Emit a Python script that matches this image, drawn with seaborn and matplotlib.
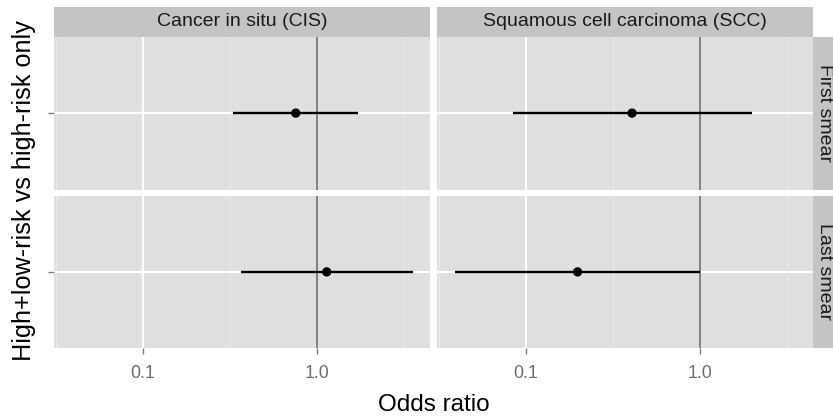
import numpy as np
import pandas as pd
import matplotlib
matplotlib.use("Agg")
import matplotlib.pyplot as plt
import seaborn as sns
from matplotlib.patches import Rectangle
from matplotlib.ticker import FixedLocator, NullFormatter, FixedFormatter

# ---- data ----
outcomes = ["Cancer in situ (CIS)", "Squamous cell carcinoma (SCC)", "Cancer in situ (CIS)", "Squamous cell carcinoma (SCC)"]
smears = ["First smear", "First smear", "Last smear", "Last smear"]
odds_ratio = [0.757, 0.407, 1.14, 0.198]
ci_low = [0.332, 0.0845, 0.366, 0.039]
ci_high = [1.72, 1.99, 3.56, 1.0]
xtick_values = [0.1, 1.0]
xtick_labels = ["0.1", "1.0"]
minor_values = [0.0316, 0.316, 3.16]

col_order = ["Cancer in situ (CIS)", "Squamous cell carcinoma (SCC)"]
row_order = ["First smear", "Last smear"]

df = pd.DataFrame({
    "outcome": outcomes,
    "smear": smears,
    "or": odds_ratio,
    "lo": ci_low,
    "hi": ci_high,
    "y": [0.0] * 4,
})

PANEL = "#DFDFDF"
STRIP = "#C4C4C4"
MINOR = "#EBEBEB"

sns.set_style({
    "axes.facecolor": PANEL,
    "figure.facecolor": "white",
    "axes.edgecolor": PANEL,
    "axes.grid": True,
    "grid.color": "white",
    "axes.axisbelow": True,
    "xtick.bottom": True,
    "ytick.left": True,
})
plt.rcParams["font.family"] = ["Liberation Sans", "DejaVu Sans"]

W, H, DPI = 833, 416, 100
g = sns.FacetGrid(df, row="smear", col="outcome", row_order=row_order,
                  col_order=col_order, sharex=True, sharey=True,
                  height=H / DPI / 2, aspect=(W / 2) / (H / 2), despine=False)
g.figure.set_size_inches(W / DPI, H / DPI)


def draw(data, **kw):
    ax = plt.gca()
    ax.axvline(1.0, color="#808080", lw=1.4, zorder=2)
    ax.hlines(data["y"], data["lo"], data["hi"], color="black", lw=1.7, zorder=3)
    sns.scatterplot(data=data, x="or", y="y", color="black", s=45,
                    edgecolor="none", ax=ax, zorder=4, legend=False)


g.map_dataframe(draw)
g.set_titles("")

for i in range(2):
    for j in range(2):
        ax = g.axes[i, j]
        ax.set_xscale("log")
        ax.set_xlim(0.031, 4.48)
        ax.set_ylim(-1, 1)
        ax.xaxis.set_major_locator(FixedLocator(xtick_values))
        ax.xaxis.set_major_formatter(FixedFormatter(xtick_labels))
        ax.xaxis.set_minor_locator(FixedLocator(minor_values))
        ax.xaxis.set_minor_formatter(NullFormatter())
        ax.set_yticks([0])
        ax.set_yticklabels([""])
        ax.grid(which="major", color="white", lw=1.5)
        ax.grid(which="minor", axis="x", color=MINOR, lw=0.8)
        ax.tick_params(which="minor", length=0)
        ax.tick_params(which="major", length=4.2, width=1.0, color="#7F7F7F",
                       labelsize=12.8, labelcolor="#6E6E6E", pad=8)
        ax.tick_params(axis="x", bottom=(i == 1), labelbottom=(i == 1))
        ax.tick_params(axis="y", left=(j == 0))
        for s in ax.spines.values():
            s.set_visible(False)
        ax.set_xlabel("")
        ax.set_ylabel("")

# layout
left, right = 54.3 / W, 813.3 / W
top, bottom = 1 - 36.7 / H, 1 - 348.3 / H
panel_w = (813.3 - 54.3 - 7.3) / 2
panel_h = (348.3 - 36.7 - 6.0) / 2
g.figure.subplots_adjust(left=left, right=right, top=top, bottom=bottom,
                         wspace=7.3 / panel_w, hspace=6.0 / panel_h)

strip_px = 29.4
# top strips
for j, name in enumerate(col_order):
    ax = g.axes[0, j]
    hfrac = strip_px / panel_h
    ax.add_patch(Rectangle((0, 1), 1, hfrac, transform=ax.transAxes,
                           facecolor=STRIP, edgecolor="none", clip_on=False))
    ax.text(0.5, 1 + hfrac / 2, name, transform=ax.transAxes, ha="center",
            va="center", fontsize=14, color="#1A1A1A")
# right strips (text kept just inside the image edge)
for i, name in enumerate(row_order):
    ax = g.axes[i, 1]
    wfrac = strip_px / panel_w
    ax.add_patch(Rectangle((1, 0), wfrac, 1, transform=ax.transAxes,
                           facecolor=STRIP, edgecolor="none", clip_on=False))
    ax.text(1 + 11.0 / panel_w, 0.5, name, transform=ax.transAxes, ha="center",
            va="center", rotation=-90, fontsize=14, color="#1A1A1A")

g.figure.text((54.3 + 813.3) / 2 / W, 1 - 405 / H, "Odds ratio", ha="center",
              va="center", fontsize=17.5, color="black")
g.figure.text(24 / W, 1 - 190.5 / H, "High+low-risk vs high-risk only",
              ha="center", va="center", rotation=90, fontsize=18.2, color="black")

g.figure.savefig("out.png", dpi=DPI)
